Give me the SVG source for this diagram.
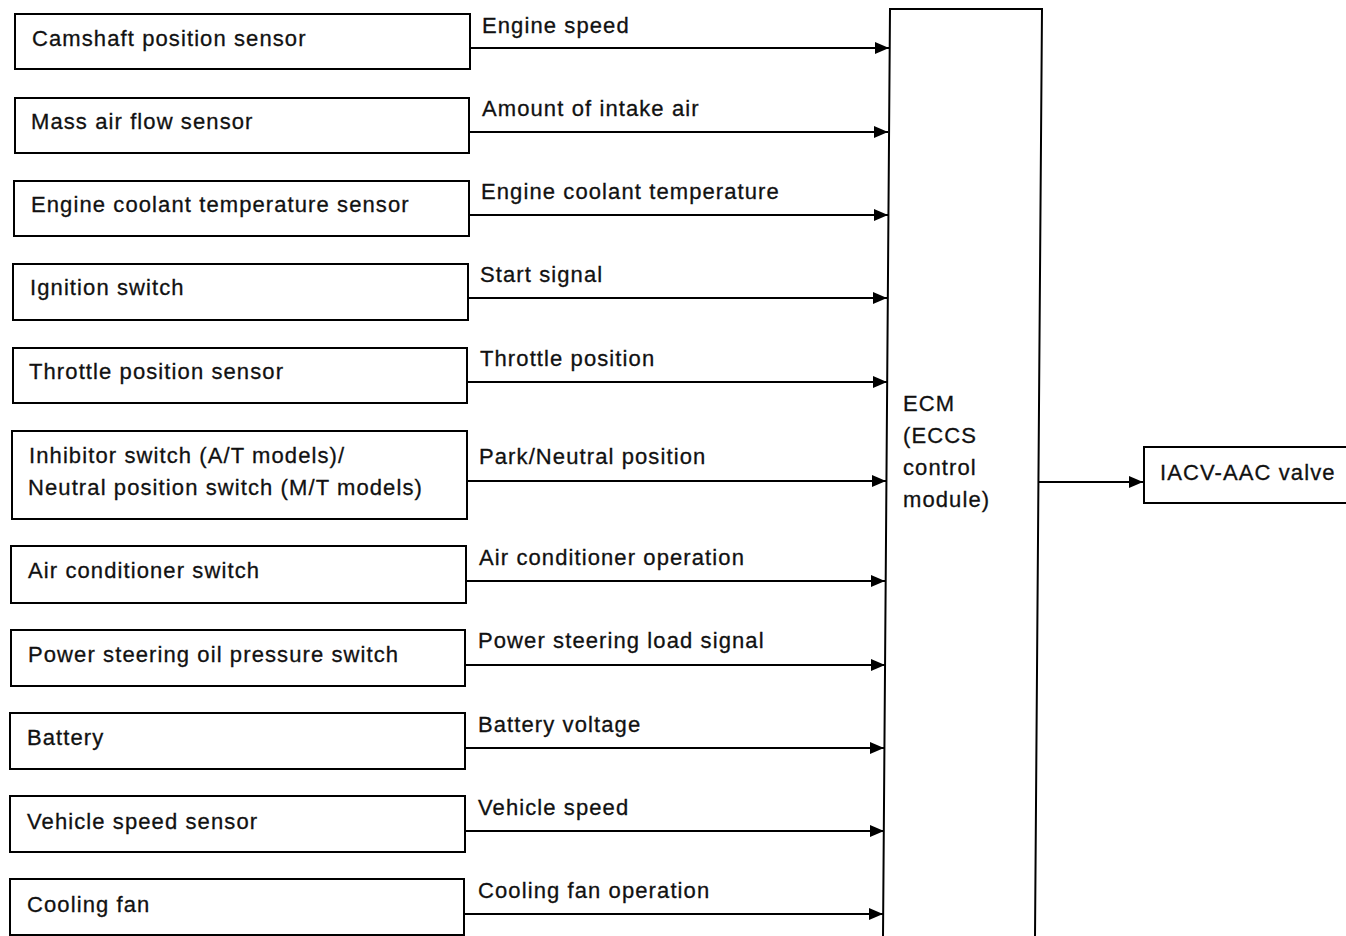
<svg xmlns="http://www.w3.org/2000/svg" width="1346" height="936" viewBox="0 0 1346 936">
<style>
.box{fill:#fff;stroke:#000;stroke-width:2}
.t{font-family:"Liberation Sans",Arial,sans-serif;font-size:22px;letter-spacing:1.1px;fill:#111;stroke:#111;stroke-width:0.3}
.c{stroke:#000;stroke-width:2;fill:none;marker-end:url(#ah)}
</style>
<defs>
<marker id="ah" viewBox="0 0 14 12" refX="14" refY="6" markerWidth="14" markerHeight="12" markerUnits="userSpaceOnUse" orient="auto">
<path d="M0,0 L14,6 L0,12 Z" fill="#000"/>
</marker>
</defs>
<rect width="1346" height="936" fill="#fff"/>
<g id="n1"><rect class="box" x="15" y="14" width="455" height="55"/><text class="t" x="32" y="46">Camshaft position sensor</text></g>
<g id="n2"><rect class="box" x="15" y="98" width="454" height="55"/><text class="t" x="31" y="129">Mass air flow sensor</text></g>
<g id="n3"><rect class="box" x="14" y="181" width="455" height="55"/><text class="t" x="31" y="212">Engine coolant temperature sensor</text></g>
<g id="n4"><rect class="box" x="13" y="264" width="455" height="56"/><text class="t" x="30" y="295">Ignition switch</text></g>
<g id="n5"><rect class="box" x="13" y="348" width="454" height="55"/><text class="t" x="29" y="379">Throttle position sensor</text></g>
<g id="n6"><rect class="box" x="12" y="431" width="455" height="88"/><text class="t" x="29" y="463">Inhibitor switch (A/T models)/</text><text class="t" x="28" y="495">Neutral position switch (M/T models)</text></g>
<g id="n7"><rect class="box" x="11" y="546" width="455" height="57"/><text class="t" x="28" y="578">Air conditioner switch</text></g>
<g id="n8"><rect class="box" x="11" y="630" width="454" height="56"/><text class="t" x="28" y="662">Power steering oil pressure switch</text></g>
<g id="n9"><rect class="box" x="10" y="713" width="455" height="56"/><text class="t" x="27" y="745">Battery</text></g>
<g id="n10"><rect class="box" x="10" y="796" width="455" height="56"/><text class="t" x="27" y="829">Vehicle speed sensor</text></g>
<g id="n11"><rect class="box" x="10" y="879" width="454" height="56"/><text class="t" x="27" y="912">Cooling fan</text></g>
<g id="ecm"><path d="M883,937 L890,9 L1042,9 L1035,937" fill="#fff" stroke="#000" stroke-width="2"/>
<text class="t" x="903" y="411">ECM</text><text class="t" x="903" y="443">(ECCS</text><text class="t" x="903" y="475">control</text><text class="t" x="903" y="507">module)</text></g>
<g id="iacv"><path d="M1347,447 L1144,447 L1144,503 L1347,503" fill="#fff" stroke="#000" stroke-width="2"/><text class="t" x="1160" y="480">IACV-AAC valve</text></g>
<g id="connectors">
<path class="c" d="M470,48 H889"/>
<path class="c" d="M469,132 H888"/>
<path class="c" d="M469,215 H888"/>
<path class="c" d="M468,298 H887"/>
<path class="c" d="M467,382 H887"/>
<path class="c" d="M467,481 H886"/>
<path class="c" d="M466,581 H885"/>
<path class="c" d="M465,665 H885"/>
<path class="c" d="M465,748 H884"/>
<path class="c" d="M465,831 H884"/>
<path class="c" d="M464,914 H883"/>
<path class="c" d="M1038,482 H1143"/>
</g>
<g id="labels">
<text class="t" x="482" y="33">Engine speed</text>
<text class="t" x="482" y="116">Amount of intake air</text>
<text class="t" x="481" y="199">Engine coolant temperature</text>
<text class="t" x="480" y="282">Start signal</text>
<text class="t" x="480" y="366">Throttle position</text>
<text class="t" x="479" y="464">Park/Neutral position</text>
<text class="t" x="479" y="565">Air conditioner operation</text>
<text class="t" x="478" y="648">Power steering load signal</text>
<text class="t" x="478" y="732">Battery voltage</text>
<text class="t" x="478" y="815">Vehicle speed</text>
<text class="t" x="478" y="898">Cooling fan operation</text>
</g>
</svg>
